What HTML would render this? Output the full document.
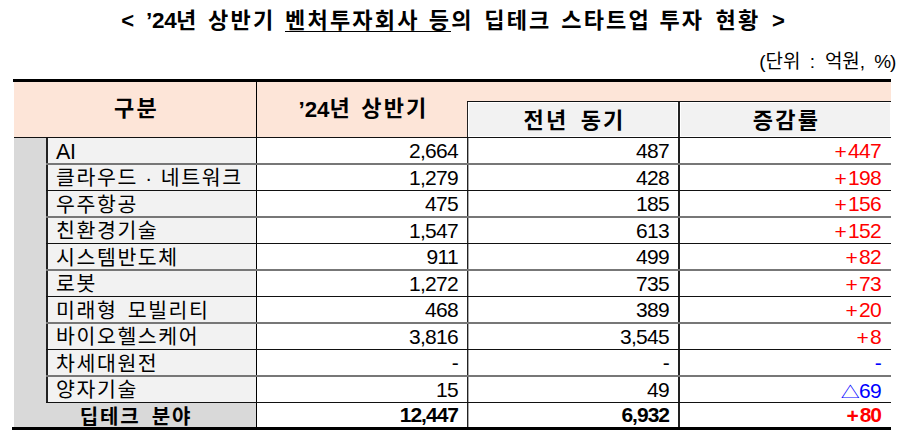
<!DOCTYPE html>
<html lang="ko"><head><meta charset="utf-8"><title>'24년 상반기 벤처투자회사 등의 딥테크 스타트업 투자 현황</title>
<style>
html,body{margin:0;padding:0;background:#fff;}
body{width:906px;height:435px;position:relative;overflow:hidden;font-family:"Liberation Sans", "Noto Sans CJK KR", sans-serif;color:#000;}
.r{position:absolute;}
.t{position:absolute;white-space:pre;}
.title{position:absolute;left:0;top:0.5px;width:906px;height:40px;font-weight:bold;font-size:22px;line-height:40px;letter-spacing:2.2px;white-space:pre;}
.title span{position:absolute;top:0;}
.title .l{letter-spacing:0;}
.title .d{font-size:22.5px;letter-spacing:-0.3px;}
.ul{position:absolute;left:285px;top:30.5px;width:166px;height:1px;background:#000;}
.unit{position:absolute;left:0;top:48px;width:906px;height:28px;font-size:19px;line-height:28px;letter-spacing:0px;white-space:pre;}
.unit span{position:absolute;top:0;}
.pc{font-weight:normal;letter-spacing:-1px;}
.hb{font-weight:bold;font-size:22px;letter-spacing:2.2px;word-spacing:4px;}
.tb{font-weight:bold;font-size:20px;letter-spacing:1.8px;word-spacing:4px;}
.cat{font-size:20.5px;letter-spacing:1.6px;word-spacing:3px;}
.num{font-size:21px;letter-spacing:-0.7px;}
.pl{position:relative;top:1px;margin-right:2px;}
.num.b{font-weight:bold;font-size:21px;letter-spacing:-1px;}
.hd{font-size:22.3px;letter-spacing:0px;position:relative;top:1px;}
.ai{position:relative;top:0px;letter-spacing:-0.3px;font-size:21.5px;}
.red{color:#ff0000;}
.blue{color:#0000ff;}
.tri{font-family:"Noto Sans CJK KR",sans-serif;font-size:19px;display:inline-block;transform:scaleY(0.85);transform-origin:50% 80%;margin-right:0px;}
</style></head><body>
<div class="title"><span class="l" style="left:121.2px">&lt;</span><span class="l d" style="left:146px">’24</span><span class="" style="left:176.0px">년</span><span class="" style="left:208.0px">상반기</span><span class="" style="left:285.0px">벤처투자회사</span><span class="" style="left:428.8px">등의</span><span class="" style="left:484.2px">딥테크</span><span class="" style="left:561.2px">스타트업</span><span class="" style="left:659.4px">투자</span><span class="" style="left:715.6px">현황</span><span class="l" style="left:772.0px">&gt;</span><i class="ul"></i></div>
<div class="unit"><span style="left:759.3px">(단위</span><span style="left:804.5px"> : </span><span style="left:824.9px">억원,</span><span style="left:868.9px"> <b class=pc>%)</b></span></div>
<div class="r" style="left:14px;top:82px;width:877px;height:55px;background:#fde5d8;"></div><div class="r" style="left:468px;top:102px;width:210px;height:35px;background:#f2f2f2;box-shadow:inset 1px 1px 0 #fff, inset -1px -1px 0 #fff;"></div><div class="r" style="left:680px;top:102px;width:211px;height:35px;background:#f2f2f2;box-shadow:inset 1px 1px 0 #fff, inset -1px -1px 0 #fff;"></div><div class="r" style="left:14px;top:138px;width:32px;height:289px;background:#d9d9d9;"></div><div class="r" style="left:48px;top:138px;width:208px;height:264px;background:#f2f2f2;"></div><div class="r" style="left:46px;top:403px;width:210px;height:24px;background:#d9d9d9;"></div><div class="r" style="left:46px;top:137px;width:2px;height:266px;background:#222;"></div><div class="r" style="left:256px;top:82px;width:1px;height:345px;background:#000;"></div><div class="r" style="left:467px;top:101px;width:1px;height:326px;background:#222;"></div><div class="r" style="left:468px;top:137px;width:1px;height:290px;background:#aaa;"></div><div class="r" style="left:678px;top:101px;width:2px;height:326px;background:#222;"></div><div class="r" style="left:13px;top:79px;width:878px;height:3px;background:#000;"></div><div class="r" style="left:467px;top:101px;width:424px;height:1px;background:#111;"></div><div class="r" style="left:14px;top:137px;width:877px;height:1px;background:#111;"></div><div class="r" style="left:46px;top:163px;width:845px;height:2px;background:#777;"></div><div class="r" style="left:46px;top:190px;width:845px;height:1px;background:#111;"></div><div class="r" style="left:46px;top:216px;width:845px;height:2px;background:#777;"></div><div class="r" style="left:46px;top:243px;width:845px;height:1px;background:#111;"></div><div class="r" style="left:46px;top:269px;width:845px;height:2px;background:#777;"></div><div class="r" style="left:46px;top:296px;width:845px;height:1px;background:#111;"></div><div class="r" style="left:46px;top:322px;width:845px;height:2px;background:#777;"></div><div class="r" style="left:46px;top:349px;width:845px;height:1px;background:#111;"></div><div class="r" style="left:46px;top:375px;width:845px;height:2px;background:#777;"></div><div class="r" style="left:46px;top:402px;width:845px;height:1px;background:#111;"></div><div class="r" style="left:12px;top:427px;width:879px;height:3px;background:#000;"></div>
<div class="t hb" style="left:15px;top:81px;width:243px;height:55px;line-height:55px;text-align:center;">구분</div><div class="t hb" style="left:258px;top:81px;width:211px;height:55px;line-height:55px;text-align:center;word-spacing:1px"><span class="hd">’24</span>년 상반기</div><div class="t hb" style="left:469px;top:103px;width:211px;height:36px;line-height:36px;text-align:center;">전년 동기</div><div class="t hb" style="left:680px;top:103px;width:213px;height:36px;line-height:36px;text-align:center;">증감률</div><div class="t cat" style="left:56px;top:138.5px;width:200px;height:25.5px;line-height:25.5px;text-align:left;"><span class="ai">AI</span></div><div class="t num" style="left:256px;top:138.0px;width:202px;height:25.5px;line-height:25.5px;text-align:right;">2,664</div><div class="t num" style="left:467px;top:138.0px;width:202px;height:25.5px;line-height:25.5px;text-align:right;">487</div><div class="t num red" style="left:678px;top:138.0px;width:203px;height:25.5px;line-height:25.5px;text-align:right;"><span class="pl">+</span>447</div><div class="t cat" style="left:56px;top:165.0px;width:200px;height:25.5px;line-height:25.5px;text-align:left;word-spacing:0px">클라우드 · 네트워크</div><div class="t num" style="left:256px;top:164.5px;width:202px;height:25.5px;line-height:25.5px;text-align:right;">1,279</div><div class="t num" style="left:467px;top:164.5px;width:202px;height:25.5px;line-height:25.5px;text-align:right;">428</div><div class="t num red" style="left:678px;top:164.5px;width:203px;height:25.5px;line-height:25.5px;text-align:right;"><span class="pl">+</span>198</div><div class="t cat" style="left:56px;top:191.5px;width:200px;height:25.5px;line-height:25.5px;text-align:left;">우주항공</div><div class="t num" style="left:256px;top:191.0px;width:202px;height:25.5px;line-height:25.5px;text-align:right;">475</div><div class="t num" style="left:467px;top:191.0px;width:202px;height:25.5px;line-height:25.5px;text-align:right;">185</div><div class="t num red" style="left:678px;top:191.0px;width:203px;height:25.5px;line-height:25.5px;text-align:right;"><span class="pl">+</span>156</div><div class="t cat" style="left:56px;top:218.0px;width:200px;height:25.5px;line-height:25.5px;text-align:left;">친환경기술</div><div class="t num" style="left:256px;top:217.5px;width:202px;height:25.5px;line-height:25.5px;text-align:right;">1,547</div><div class="t num" style="left:467px;top:217.5px;width:202px;height:25.5px;line-height:25.5px;text-align:right;">613</div><div class="t num red" style="left:678px;top:217.5px;width:203px;height:25.5px;line-height:25.5px;text-align:right;"><span class="pl">+</span>152</div><div class="t cat" style="left:56px;top:244.5px;width:200px;height:25.5px;line-height:25.5px;text-align:left;">시스템반도체</div><div class="t num" style="left:256px;top:244.0px;width:202px;height:25.5px;line-height:25.5px;text-align:right;">911</div><div class="t num" style="left:467px;top:244.0px;width:202px;height:25.5px;line-height:25.5px;text-align:right;">499</div><div class="t num red" style="left:678px;top:244.0px;width:203px;height:25.5px;line-height:25.5px;text-align:right;"><span class="pl">+</span>82</div><div class="t cat" style="left:56px;top:271.0px;width:200px;height:25.5px;line-height:25.5px;text-align:left;">로봇</div><div class="t num" style="left:256px;top:270.5px;width:202px;height:25.5px;line-height:25.5px;text-align:right;">1,272</div><div class="t num" style="left:467px;top:270.5px;width:202px;height:25.5px;line-height:25.5px;text-align:right;">735</div><div class="t num red" style="left:678px;top:270.5px;width:203px;height:25.5px;line-height:25.5px;text-align:right;"><span class="pl">+</span>73</div><div class="t cat" style="left:56px;top:297.5px;width:200px;height:25.5px;line-height:25.5px;text-align:left;">미래형 모빌리티</div><div class="t num" style="left:256px;top:297.0px;width:202px;height:25.5px;line-height:25.5px;text-align:right;">468</div><div class="t num" style="left:467px;top:297.0px;width:202px;height:25.5px;line-height:25.5px;text-align:right;">389</div><div class="t num red" style="left:678px;top:297.0px;width:203px;height:25.5px;line-height:25.5px;text-align:right;"><span class="pl">+</span>20</div><div class="t cat" style="left:56px;top:324.0px;width:200px;height:25.5px;line-height:25.5px;text-align:left;">바이오헬스케어</div><div class="t num" style="left:256px;top:323.5px;width:202px;height:25.5px;line-height:25.5px;text-align:right;">3,816</div><div class="t num" style="left:467px;top:323.5px;width:202px;height:25.5px;line-height:25.5px;text-align:right;">3,545</div><div class="t num red" style="left:678px;top:323.5px;width:203px;height:25.5px;line-height:25.5px;text-align:right;"><span class="pl">+</span>8</div><div class="t cat" style="left:56px;top:350.5px;width:200px;height:25.5px;line-height:25.5px;text-align:left;">차세대원전</div><div class="t num" style="left:256px;top:350.0px;width:202px;height:25.5px;line-height:25.5px;text-align:right;">-</div><div class="t num" style="left:467px;top:350.0px;width:202px;height:25.5px;line-height:25.5px;text-align:right;">-</div><div class="t num blue" style="left:678px;top:350.0px;width:203px;height:25.5px;line-height:25.5px;text-align:right;">-</div><div class="t cat" style="left:56px;top:377.0px;width:200px;height:25.5px;line-height:25.5px;text-align:left;">양자기술</div><div class="t num" style="left:256px;top:376.5px;width:202px;height:25.5px;line-height:25.5px;text-align:right;">15</div><div class="t num" style="left:467px;top:376.5px;width:202px;height:25.5px;line-height:25.5px;text-align:right;">49</div><div class="t num blue" style="left:678px;top:376.5px;width:203px;height:25.5px;line-height:25.5px;text-align:right;"><span class="tri">△</span>69</div><div class="t tb" style="left:14.5px;top:405px;width:243px;height:24px;line-height:24px;text-align:center;">딥테크 분야</div><div class="t num b" style="left:256px;top:403px;width:202px;height:24px;line-height:24px;text-align:right;">12,447</div><div class="t num b" style="left:467px;top:403px;width:202px;height:24px;line-height:24px;text-align:right;">6,932</div><div class="t num b red" style="left:678px;top:403px;width:203px;height:24px;line-height:24px;text-align:right;"><span class="pl">+</span>80</div>
</body></html>
